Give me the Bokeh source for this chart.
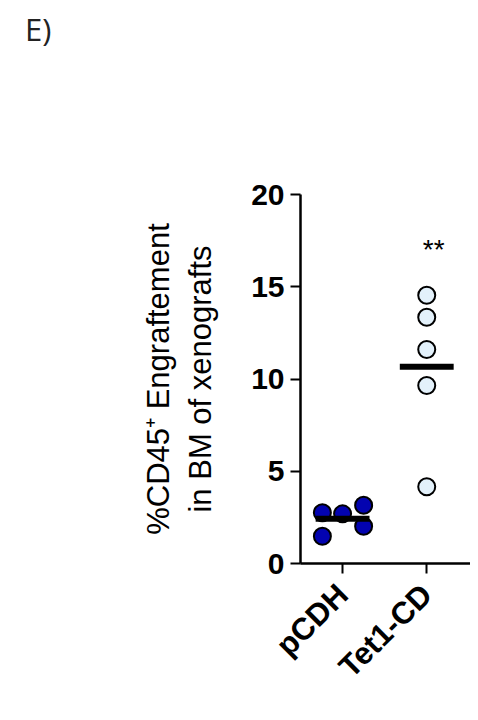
import numpy as np
from bokeh.plotting import figure
from bokeh.layouts import column
from bokeh.models import Range1d, FixedTicker, Div
from bokeh.embed import file_html
from bokeh.resources import INLINE
from bokeh.core.properties import value

# ---- data ----
categories = ["pCDH", "Tet1-CD"]
pcdh_values = [2.75, 1.48, 2.69, 3.16, 2.02]
pcdh_jitter = [-0.24, -0.24, 0.0, 0.25, 0.25]
tet1_values = [14.54, 13.35, 11.6, 9.65, 4.16]
tet1_jitter = [0.0, 0.0, 0.0, 0.0, 0.0]
y_ticks = [0, 5, 10, 15, 20]
significance = "**"
significance_y = 17.0
panel_label = "E)"
y_label = "%CD45\u207a Engraftement\nin BM of xenografts"

cat_pos = {c: i + 1 for i, c in enumerate(categories)}

header = Div(text=panel_label, width=470, height=39,
             styles={"font-size": "31px", "font-family": "Open Sans", "color": "#222222",
                     "padding-left": "20px", "padding-top": "9px", "line-height": "31px"})

p = figure(width=470, height=660, output_backend="svg", toolbar_location=None,
           x_range=Range1d(0.5, 2.52), y_range=Range1d(0, 20),
           min_border_left=300, min_border_right=0, min_border_top=145,
           min_border_bottom=146)
p.outline_line_color = None
p.grid.visible = False
p.background_fill_color = "white"
p.border_fill_color = "white"

# points
px = [cat_pos["pCDH"] + j for j in pcdh_jitter]
tx = [cat_pos["Tet1-CD"] + j for j in tet1_jitter]
p.scatter(px, pcdh_values, size=17, fill_color="#0303b0", line_color="black", line_width=2)
p.scatter(tx, tet1_values, size=17, fill_color="#e3f1fb", line_color="black", line_width=2)

# mean lines
means = [float(np.mean(pcdh_values)), float(np.mean(tet1_values))]
xs = [cat_pos[c] for c in categories]
p.segment(x0=[x - 0.32 for x in xs], x1=[x + 0.32 for x in xs], y0=means, y1=means,
          line_color="black", line_width=6)

# significance
p.text(x=[cat_pos["Tet1-CD"]], y=[significance_y], text=[significance],
       text_font=value("Liberation Sans"), text_font_size="28px", text_align="center",
       text_baseline="middle", x_offset=7, text_color="black")

# axes
p.yaxis.ticker = FixedTicker(ticks=y_ticks)
p.yaxis.major_label_text_font = "Liberation Sans"
p.yaxis.major_label_text_font_style = "bold"
p.yaxis.major_label_text_font_size = "30px"
p.yaxis.major_label_text_color = "black"
p.yaxis.major_tick_out = 10
p.yaxis.major_tick_in = 0
p.yaxis.minor_tick_line_color = None
p.yaxis.major_label_standoff = 6
p.yaxis.axis_label = y_label
p.yaxis.axis_label_text_font = "Liberation Sans"
p.yaxis.axis_label_text_font_style = "normal"
p.yaxis.axis_label_text_font_size = "31px"
p.yaxis.axis_label_text_color = "black"
p.yaxis.axis_label_standoff = 30

p.xaxis.ticker = FixedTicker(ticks=xs)
p.xaxis.major_label_overrides = {cat_pos[c]: c for c in categories}
p.xaxis.major_label_orientation = np.pi / 4
p.xaxis.major_label_text_font = "Liberation Sans"
p.xaxis.major_label_text_font_style = "bold"
p.xaxis.major_label_text_font_size = "31px"
p.xaxis.major_label_text_color = "black"
p.xaxis.major_tick_out = 10
p.xaxis.major_tick_in = 0
p.xaxis.minor_tick_line_color = None
p.xaxis.major_label_standoff = 16

for ax in (p.xaxis, p.yaxis):
    ax.axis_line_width = 2.5
    ax.axis_line_color = "black"
    ax.major_tick_line_width = 2
    ax.major_tick_line_color = "black"

layout = column(header, p, spacing=0)
open("out.html", "w").write(file_html(layout, INLINE))
